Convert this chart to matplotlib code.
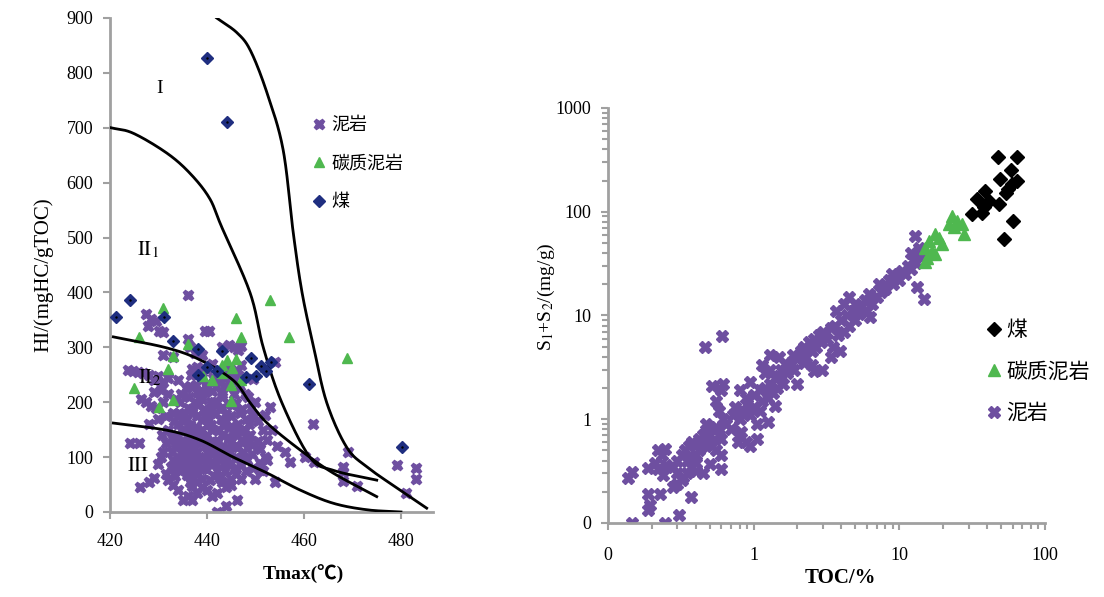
import matplotlib
matplotlib.use("Agg")
import numpy as np
import matplotlib.pyplot as plt
from matplotlib.ticker import FixedLocator, FixedFormatter, NullFormatter

plt.rcParams["font.family"] = ["Liberation Serif", "Noto Sans CJK SC"]
plt.rcParams["mathtext.fontset"] = "stix"

# ---------------- left panel: Tmax vs HI ----------------
mud_tmax_hi = [
    (436.1, 395), (427.5, 360), (428.5, 352), (429.5, 348), (427.8, 338), (430.2, 330), (431, 328),
    (439.5, 330), (440.5, 330), (431, 286), (433, 283), (436, 315), (436.5, 300), (437.5, 290),
    (439, 286), (443, 300), (444.5, 305), (445.5, 300), (446.5, 296), (447, 303), (423.8, 258),
    (424.8, 257), (425.8, 255), (426.8, 254), (428, 250), (430, 248), (432, 245), (429, 240),
    (431, 236), (434, 240), (437, 260), (441, 270), (444, 262), (445, 258), (446, 255), (447, 268),
    (449.5, 242), (446.5, 250), (454, 273),
    (426.5, 205), (427.5, 200), (428.5, 193), (429.5, 190), (431, 200), (432, 215), (429, 218),
    (430.5, 222), (433, 180), (431.5, 175), (430, 170), (428, 160),
    (424.1, 125), (426, 125), (426.2, 46), (428, 55), (429, 62), (430, 88), (430.5, 100), (431, 110),
    (431.5, 70), (432, 58), (433, 50), (432.5, 82), (433, 95), (434, 40), (435, 21), (437, 21),
    (436, 30), (437, 48), (438, 35),
    (433.5, 120), (433.8, 140), (434, 160), (434.2, 180), (434.5, 200), (434.8, 105), (435, 85),
    (435.2, 130), (435.5, 150), (435.8, 170), (436, 190), (436.2, 210), (436.5, 230), (436.8, 70),
    (437, 95), (437.2, 115), (437.5, 135), (437.8, 155), (438, 175), (438.2, 195), (438.5, 215),
    (438.8, 240), (439, 60), (439.2, 80), (439.5, 100), (439.8, 120), (440, 140), (440.2, 160),
    (440.5, 180), (440.8, 200), (441, 220), (441.2, 245), (441.5, 65), (441.8, 90), (442, 110),
    (442.2, 130), (442.5, 150), (442.8, 170), (443, 190), (443.2, 210), (443.5, 230), (443.8, 75),
    (444, 95), (444.2, 115), (444.5, 135), (444.8, 155), (445, 175), (445.2, 195), (445.5, 215),
    (445.8, 120), (446, 100), (446.2, 140), (446.5, 160), (446.8, 180), (447, 85), (447.2, 130),
    (447.5, 110), (447.8, 150), (448, 170), (448.2, 95), (448.5, 125), (448.8, 140), (449, 190),
    (449.2, 105), (449.5, 80), (450, 200), (450.5, 130), (451, 115), (451.5, 150), (452, 100),
    (434, 100), (435, 115), (436, 125), (437, 140), (438, 110), (439, 130), (440, 95), (441, 105),
    (442, 125), (443, 140), (444, 165), (445, 90), (436, 80), (437, 60), (438, 85), (439, 150),
    (440, 170), (441, 185), (442, 200), (443, 215), (435, 165), (436, 145), (437, 180), (438, 150),
    (439, 205), (440, 225), (441, 150), (442, 75), (443, 55), (444, 45), (445, 60), (446, 70),
    (440, 40), (441, 30), (439, 45), (438, 55), (442, 35), (444, 10), (442, 0), (446.2, 21),
    (447, 60), (448, 75), (445, 50), (443.5, 105), (441.5, 125), (440.5, 115), (439.5, 175),
    (438.5, 125), (437.5, 200), (436.5, 110), (435.5, 95), (434.5, 75), (433.5, 65), (432.8, 135),
    (432, 150), (431.5, 125), (430.8, 140), (436.8, 250), (438, 265), (439, 255), (440, 260),
    (441.5, 200), (442.5, 240), (444.5, 250), (445.5, 240), (446.8, 230), (447.8, 215),
    (448.5, 210), (449.8, 175), (450.5, 165), (451, 90), (451.5, 75), (450, 60),
    (434.3, 88), (434.6, 128), (434.9, 148), (435.3, 178), (435.6, 108), (435.9, 68), (436.3, 98),
    (436.6, 158), (436.9, 188), (437.3, 128), (437.6, 78), (437.9, 218), (438.3, 98), (438.6, 138),
    (438.9, 168), (439.3, 188), (439.6, 218), (439.9, 78), (440.3, 108), (440.6, 128), (440.9, 158),
    (441.3, 88), (441.6, 178), (441.9, 228), (442.3, 98), (442.6, 188), (442.9, 118), (443.3, 158),
    (443.6, 88), (443.9, 178), (444.3, 198), (444.6, 108), (444.9, 128), (445.3, 148), (445.6, 78),
    (445.9, 198), (446.3, 118), (446.6, 228), (446.9, 148), (447.3, 188), (447.6, 98), (448.1, 138),
    (448.7, 160), (449.3, 122), (438.2, 70), (440.7, 58), (442.7, 62), (436.4, 55), (439.7, 232),
    (437.8, 232), (442.2, 255), (443.8, 245), (435.7, 225), (434.7, 215), (433.7, 205),
    (433.2, 165), (432.7, 110), (433.9, 80),
    (453, 192), (452, 177), (461.9, 160), (469, 110), (456.1, 109), (460.2, 101), (457.1, 91),
    (462.1, 91), (468, 82), (468, 73), (468, 57), (471, 47), (479.1, 85), (483.1, 80), (483.1, 60),
    (481, 35), (454, 55), (452.3, 131), (452.4, 95), (451, 77), (453.5, 150), (454.5, 120),
]
carb_tmax_hi = [
    (431, 371), (426, 318), (433, 284), (432, 260), (425, 226), (430.1, 192), (433, 204),
    (436.1, 306), (439.1, 247), (441, 241), (443, 268), (444.1, 276), (445.1, 263), (445, 231),
    (446, 354), (446, 278), (447, 318), (447, 240), (445, 202), (443, 253), (453, 386),
    (456.9, 319), (468.9, 281),
]
coal_tmax_hi = [
    (440.0, 827), (444.1, 710), (421.2, 355), (424.1, 386), (431.1, 355), (433.0, 312),
    (438.2, 297), (438.2, 250), (440.1, 264), (442.1, 257), (443.2, 293), (448.0, 246),
    (449.1, 281), (450.1, 248), (451.1, 266), (452.1, 257), (453.1, 273), (461.1, 233),
    (480.2, 119),
]

# kerogen type boundary curves (Tmax, HI)
curve_1 = [(442, 900), (446.2, 873), (449, 840), (452.4, 763), (455.7, 660), (457.8, 508),
           (459.6, 400), (462, 300), (464.7, 199), (468.8, 118), (473, 82), (479.8, 40), (485.3, 7)]
curve_2 = [(420.2, 700), (424.8, 690), (431.7, 654), (436.5, 617), (440.5, 572), (443, 520),
           (448.9, 399), (451.6, 300), (455.4, 200), (461.2, 100), (466, 76), (475, 58)]
curve_3 = [(420.7, 319), (431.7, 299), (438.6, 277), (445.4, 240), (448.9, 199), (452.4, 162),
           (459.2, 113), (466, 71), (475, 28)]
curve_4 = [(420.7, 162), (431.7, 149), (438.6, 131), (445.4, 100), (452.4, 71), (459.2, 40),
           (466, 16), (473, 4), (480, 0)]

# ---------------- right panel: TOC vs S1+S2 ----------------
mud_toc_s = [
    (0.137, 0.27), (0.147, 0.31), (0.188, 0.34), (0.188, 0.19), (0.188, 0.133), (0.195, 0.15),
    (0.229, 0.19), (0.222, 0.50), (0.247, 0.52), (0.235, 0.45), (0.21, 0.38), (0.22, 0.33),
    (0.24, 0.29), (0.25, 0.36), (0.147, 0.1), (0.247, 0.1), (0.309, 0.119), (0.373, 0.179),
    (0.28, 0.22), (0.3, 0.24), (0.32, 0.26), (0.3, 0.3), (0.33, 0.28), (0.35, 0.3), (0.28, 0.35),
    (0.3, 0.4), (0.32, 0.45), (0.34, 0.5), (0.36, 0.55), (0.38, 0.6), (0.35, 0.4), (0.38, 0.42),
    (0.4, 0.45), (0.42, 0.5), (0.37, 0.35), (0.4, 0.38), (0.44, 0.55), (0.46, 0.6), (0.42, 0.65),
    (0.45, 0.7), (0.48, 0.75), (0.5, 0.62), (0.52, 0.55), (0.5, 0.8), (0.47, 0.9), (0.55, 0.85),
    (0.58, 0.7), (0.6, 0.65), (0.55, 0.5), (0.6, 0.45), (0.6, 0.33), (0.45, 0.3), (0.4, 0.32),
    (0.5, 0.37), (0.65, 0.9), (0.62, 1.0), (0.58, 1.2), (0.55, 1.5), (0.6, 1.9), (0.52, 2.1),
    (0.62, 2.2), (0.466, 4.96), (0.605, 6.3),
    (0.7, 0.8), (0.72, 1.1), (0.75, 1.3), (0.8, 1.0), (0.82, 0.75), (0.78, 0.6), (0.85, 1.2),
    (0.9, 1.4), (0.88, 1.6), (0.95, 1.1), (1.0, 1.3), (1.05, 0.9), (1.1, 1.2), (1.0, 1.7),
    (1.1, 1.9), (1.15, 1.5), (1.2, 2.0), (1.25, 1.6), (1.3, 2.2), (1.35, 1.8), (1.2, 2.8),
    (1.15, 3.3), (1.3, 3.0), (1.4, 2.5), (1.45, 2.0), (1.5, 2.6), (1.55, 3.0), (1.6, 2.2),
    (1.65, 3.4), (1.7, 2.8), (1.3, 4.2), (1.5, 4.0), (1.8, 3.5), (1.85, 4.2), (1.9, 3.0),
    (2.0, 2.2), (2.0, 3.8), (2.1, 4.5), (2.2, 3.5), (2.2, 5.0), (2.3, 4.0), (2.4, 5.5),
    (2.5, 4.5), (2.6, 6.0), (2.7, 5.0), (2.8, 6.5), (2.9, 5.5), (2.95, 2.96), (2.5, 3.3),
    (1.05, 0.65), (0.95, 0.55), (1.25, 0.95), (1.4, 1.35), (0.8, 1.9), (0.95, 2.3), (0.88, 0.6),
    (3.0, 7.0), (3.2, 6.0), (3.4, 7.5), (3.5, 5.0), (3.6, 8.0), (3.8, 6.5), (3.9, 4.5),
    (4.0, 9.0), (4.2, 7.0), (4.4, 10), (4.5, 8.0), (4.8, 11), (5.0, 9.0), (5.0, 13), (5.3, 10.4),
    (5.5, 12), (5.8, 14), (6.0, 11), (6.2, 16), (6.34, 9.6), (6.5, 13), (7.0, 15), (7.2, 20),
    (7.5, 17), (8.0, 18), (8.5, 22), (8.9, 25), (9.0, 20), (9.5, 24), (10, 22), (10.5, 27),
    (11, 25), (11.5, 30), (12, 28), (12.5, 34), (13, 32), (13.3, 18.7), (14.7, 14.5),
    (12.9, 58.8), (13.6, 45), (14, 40), (14.5, 38), (13, 38), (12, 40), (4.5, 15), (4.2, 13),
    (3.7, 11), (3.4, 4.0), (2.6, 2.9),
]
carb_toc_s = [
    (15, 32.6), (16, 52.6), (17.7, 61), (18.7, 56), (16.8, 42), (19.7, 48.9), (15.1, 45),
    (23.1, 91.5), (23.7, 70.6), (27, 76), (27.7, 61), (25, 82), (21.9, 76), (17.7, 39), (15.5, 36),
]
coal_toc_s = [
    (47.8, 338), (64.5, 338), (58.1, 252), (48.8, 206), (64.5, 199), (59.6, 184), (56, 165),
    (38.7, 159), (34.3, 133), (41.2, 128), (48.3, 120), (38.1, 110), (31.7, 96), (37, 98),
    (53.7, 153), (60.3, 82), (52.3, 55),
]

PURPLE = "#6E4FA0"
GREEN = "#4FB84F"
NAVY = "#1F2E80"
GRAY = "#A0A0A0"


def unzip(pairs):
    return [p[0] for p in pairs], [p[1] for p in pairs]


def smooth(pts, n=24):
    # Catmull-Rom through the read-off points so the boundary lines are not kinked
    p = np.asarray(pts, float)
    p = np.vstack([2 * p[0] - p[1], p, 2 * p[-1] - p[-2]])
    t = np.linspace(0, 1, n, endpoint=False)[:, None]
    segs = []
    for i in range(1, len(p) - 2):
        p0, p1, p2, p3 = p[i - 1], p[i], p[i + 1], p[i + 2]
        segs.append(0.5 * (2 * p1 + (p2 - p0) * t + (2 * p0 - 5 * p1 + 4 * p2 - p3) * t ** 2
                           + (3 * p1 - p0 - 3 * p2 + p3) * t ** 3))
    segs.append(p[-2][None])
    out = np.vstack(segs)
    return out[:, 0], out[:, 1]


def style_axes(ax):
    for s in ("top", "right"):
        ax.spines[s].set_visible(False)
    for s in ("left", "bottom"):
        ax.spines[s].set_color(GRAY)
        ax.spines[s].set_linewidth(2)
    ax.tick_params(which="major", direction="out", color=GRAY, width=1.5, length=5,
                   labelsize=13)
    ax.tick_params(which="minor", direction="out", color=GRAY, width=1.5, length=4)


fig = plt.figure(figsize=(11.04, 5.97), dpi=100)

# left
ax1 = fig.add_axes([0.0996, 0.1424, 0.2926, 0.8275])
style_axes(ax1)
ax1.tick_params(axis="x", which="major", pad=10)
ax1.tick_params(axis="y", which="major", pad=7)
for c in (curve_1, curve_2, curve_3, curve_4):
    cx, cy = smooth(c)
    ax1.plot(cx, cy, color="black", lw=2, zorder=4)

x, y = unzip(mud_tmax_hi)
ax1.plot(x, y, ls="none", marker="X", ms=7.5, color=PURPLE, mec=PURPLE, label="泥岩", zorder=2)
x, y = unzip(carb_tmax_hi)
ax1.plot(x, y, ls="none", marker="^", ms=7, color=GREEN, mec=GREEN, label="碳质泥岩", zorder=3)
x, y = unzip(coal_tmax_hi)
ax1.plot(x, y, ls="none", marker="D", ms=6, color=NAVY, mec=NAVY, label="煤", zorder=5)
ax1.plot(x, y, ls="none", marker=".", ms=1.5, color="black", zorder=6)

ax1.set_xlim(420, 486.6)
ax1.set_ylim(0, 900)
ax1.set_xticks([420, 440, 460, 480])
ax1.set_yticks(range(0, 901, 100))
ax1.set_xlabel("Tmax(℃)", fontsize=14, fontweight="bold", va="top")
ax1.xaxis.set_label_coords(0.60, -0.108)
ax1.set_ylabel("HI/(mgHC/gTOC)", fontsize=15)
ax1.yaxis.set_label_coords(-0.176, 0.48)

ax1.text(430.3, 772, "I", fontsize=14, ha="center", va="center")
ax1.text(427.8, 477, r"$\mathrm{II}_{1}$", fontsize=15, ha="center", va="center")
ax1.text(428.2, 244, r"$\mathrm{II}_{2}$", fontsize=15, ha="center", va="center")
ax1.text(425.8, 82, r"$\mathrm{III}$", fontsize=15, ha="center", va="center")

ax1.legend(loc="upper left", bbox_to_anchor=(0.59, 0.814), frameon=False, fontsize=13,
           handletextpad=0.1, handlelength=1.2, labelspacing=1.2, borderaxespad=0)

# right
ax2 = fig.add_axes([0.5507, 0.124, 0.3958, 0.6951])
style_axes(ax2)
ax2.set_xscale("log")
ax2.set_yscale("log")

x, y = unzip(mud_toc_s)
l_mud = ax2.plot(x, y, ls="none", marker="X", ms=9, color=PURPLE, mec=PURPLE, label="泥岩", zorder=2)[0]
x, y = unzip(carb_toc_s)
l_carb = ax2.plot(x, y, ls="none", marker="^", ms=9, color=GREEN, mec=GREEN, label="碳质泥岩", zorder=3)[0]
x, y = unzip(coal_toc_s)
l_coal = ax2.plot(x, y, ls="none", marker="D", ms=7.5, color="black", mec="black", label="煤", zorder=4)[0]

ax2.set_xlim(0.1, 100)
ax2.set_ylim(0.1, 1000)
ax2.xaxis.set_major_locator(FixedLocator([0.1, 1, 10, 100]))
ax2.xaxis.set_major_formatter(FixedFormatter(["0", "1", "10", "100"]))
ax2.yaxis.set_major_locator(FixedLocator([0.1, 1, 10, 100, 1000]))
ax2.yaxis.set_major_formatter(FixedFormatter(["0", "1", "10", "100", "1000"]))
ax2.xaxis.set_minor_formatter(NullFormatter())
ax2.yaxis.set_minor_formatter(NullFormatter())
ax2.tick_params(axis="x", which="major", pad=12)
ax2.tick_params(axis="y", which="major", pad=7)
ax2.set_xlabel("TOC/%", fontsize=15, fontweight="bold", va="top")
ax2.xaxis.set_label_coords(0.533, -0.108)
ax2.set_ylabel("S$_1$+S$_2$/(mg/g)", fontsize=14)
ax2.yaxis.set_label_coords(-0.117, 0.545)

ax2.legend(handles=[l_coal, l_carb, l_mud], loc="upper left", bbox_to_anchor=(0.84, 0.506),
           frameon=False, fontsize=15, handletextpad=0.1, handlelength=1.0,
           labelspacing=1.05, borderaxespad=0)

fig.savefig("out.png", dpi=100)
